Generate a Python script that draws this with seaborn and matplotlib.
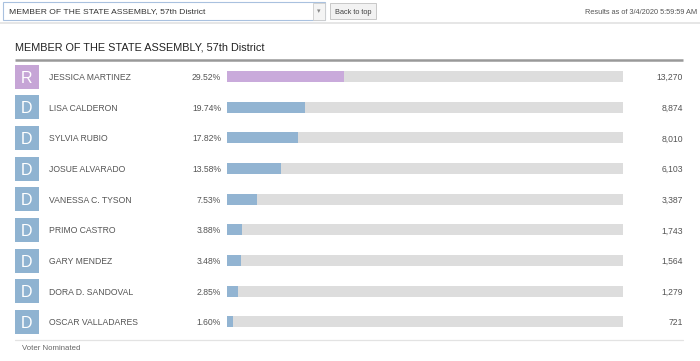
import matplotlib
import numpy as np
import pandas as pd

matplotlib.use("Agg")
import matplotlib.pyplot as plt
import matplotlib.transforms as mtransforms
from matplotlib.patches import Rectangle
import seaborn as sns

sns.set_style("white")
plt.rcParams["font.family"] = ["Liberation Sans", "DejaVu Sans"]

title = "MEMBER OF THE STATE ASSEMBLY, 57th District"
timestamp = "Results as of 3/4/2020 5:59:59 AM"
footer = "Voter Nominated"

candidates = [
    "JESSICA MARTINEZ",
    "LISA CALDERON",
    "SYLVIA RUBIO",
    "JOSUE ALVARADO",
    "VANESSA C. TYSON",
    "PRIMO CASTRO",
    "GARY MENDEZ",
    "DORA D. SANDOVAL",
    "OSCAR VALLADARES",
]
parties = ["R", "D", "D", "D", "D", "D", "D", "D", "D"]
percents = [29.52, 19.74, 17.82, 13.58, 7.53, 3.88, 3.48, 2.85, 1.60]
votes = [13270, 8874, 8010, 6103, 3387, 1743, 1564, 1279, 721]

box_colors = {"R": "#c6a5d6", "D": "#8fb3d1"}
bar_colors = {"R": "#c9aadb", "D": "#92b4d2"}
track_color = "#dddddd"
text_color = "#555555"

df = pd.DataFrame(
    {"name": candidates, "party": parties, "pct": percents, "votes": votes}
)

W, H = 700, 361
fig = plt.figure(figsize=(W / 100, H / 100), dpi=100)

# page decorations drawn in pixel coordinates
deco = fig.add_axes([0, 0, 1, 1], zorder=0)
deco.set_xlim(0, W)
deco.set_ylim(H, 0)
deco.axis("off")

deco.add_patch(Rectangle((3, 2), 322, 18, facecolor="white", edgecolor="#a9c1df", lw=0.8))
deco.add_patch(Rectangle((313, 2.5), 12, 17, facecolor="#f4f4f4", edgecolor="#cccccc", lw=0.6))
deco.text(319, 11, "\u25be", ha="center", va="center", fontsize=5, color="#888888",
          family="DejaVu Sans")
deco.text(9, 11, title, ha="left", va="center_baseline", fontsize=6.1, color="#333333")
deco.add_patch(Rectangle((330, 3), 46, 16, facecolor="#f2f2f2", edgecolor="#c8c8c8", lw=0.7))
deco.text(353, 11, "Back to top", ha="center", va="center_baseline", fontsize=5.3,
          color="#444444")
deco.text(697, 11, timestamp, ha="right", va="center_baseline", fontsize=5.3,
          color="#555555")
deco.plot([0, W], [22.5, 22.5], color="#e2e2e2", lw=1.2)

deco.text(15, 47, title, ha="left", va="center_baseline", fontsize=7.8, color="#222222")
deco.plot([15, 683], [59.5, 59.5], color="#999999", lw=1.8, solid_capstyle="butt")
deco.plot([15, 683], [339.5, 339.5], color="#e3e3e3", lw=0.9)
deco.text(22, 347.5, footer, ha="left", va="center_baseline", fontsize=5.6,
          color="#666666")

# bar area: x 227..623 px, rows centred at 76.5 + i * 30.67 px
row_h = 30.67
top = 76.5 - row_h / 2
bottom = top + row_h * len(candidates)
ax = fig.add_axes([227 / W, 1 - bottom / H, 396 / W, (bottom - top) / H], zorder=1)
ax.patch.set_alpha(0)

bar_w = 11 / row_h
sns.barplot(data=df.assign(full=100), x="full", y="name", color=track_color,
            width=bar_w, ax=ax, saturation=1, linewidth=0)
sns.barplot(data=df, x="pct", y="name", hue="party", palette=bar_colors,
            width=bar_w, dodge=False, legend=False, ax=ax, saturation=1, linewidth=0)

ax.set_xlim(0, 100)
ax.set_ylim(len(candidates) - 0.5, -0.5)
ax.axis("off")

tr = mtransforms.blended_transform_factory(fig.transFigure, ax.transData)
box_h = 24 / row_h
for i, row in df.iterrows():
    ax.add_patch(Rectangle((15 / W, i - box_h / 2), 24 / W, box_h, transform=tr,
                           facecolor=box_colors[row["party"]], edgecolor="none",
                           clip_on=False))
    ax.text(27 / W, i, row["party"], transform=tr, ha="center", va="center_baseline",
            fontsize=11.5, color="white", clip_on=False)
    ax.text(49 / W, i, row["name"], transform=tr, ha="left", va="center_baseline",
            fontsize=6.2, color=text_color, clip_on=False)
    ax.text(221 / W, i, f"{row['pct']:.2f}%", transform=tr, ha="right",
            va="center_baseline", fontsize=6.2, color=text_color, clip_on=False)
    ax.text(683 / W, i, f"{row['votes']:,}", transform=tr, ha="right",
            va="center_baseline", fontsize=6.2, color=text_color, clip_on=False)

fig.savefig("out.png", dpi=100)
plt.close("all")
